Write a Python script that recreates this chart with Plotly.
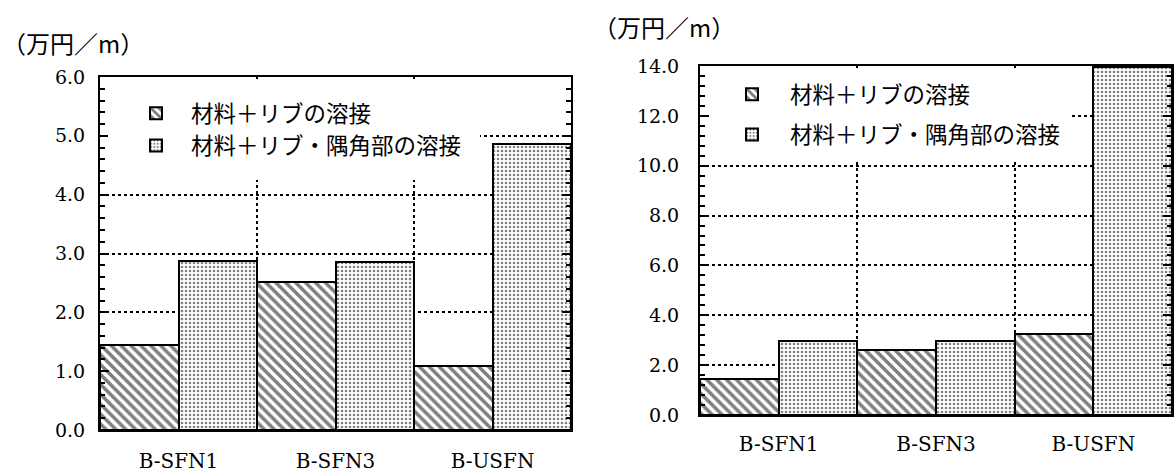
import plotly.graph_objects as go

categories = ["B-SFN1", "B-SFN3", "B-USFN"]
series_names = ["材料＋リブの溶接", "材料＋リブ・隅角部の溶接"]

# left chart values (万円/m)
left_rib = [1.45, 2.52, 1.08]
left_rib_corner = [2.88, 2.86, 4.86]

# right chart values (万円/m)
right_rib = [1.46, 2.60, 3.24]
right_rib_corner = [2.95, 2.97, 13.95]

left_ticks = [0, 1, 2, 3, 4, 5, 6]
right_ticks = [0, 2, 4, 6, 8, 10, 12, 14]
y_title = "（万円／m）"

W, H = 1175, 472
xpos = list(range(len(categories)))

SERIF = "DejaVu Serif"
JP = "Noto Sans CJK JP"

hatch = dict(shape="\\", fgcolor="black", bgcolor="white", size=7, solidity=0.5, fillmode="overlay")
dots = dict(shape=".", fgcolor="black", bgcolor="white", size=4, solidity=0.33, fillmode="overlay")

fig = go.Figure()


def add_bars(vals_a, vals_b, xa, ya, legend):
    fig.add_trace(go.Bar(
        x=xpos, y=vals_a, name=series_names[0], xaxis=xa, yaxis=ya,
        marker=dict(color="white", pattern=hatch, line=dict(color="black", width=2)),
        legend=legend, legendgroup=legend + "a", offsetgroup="a",
    ))
    fig.add_trace(go.Bar(
        x=xpos, y=vals_b, name=series_names[1], xaxis=xa, yaxis=ya,
        marker=dict(color="white", pattern=dots, line=dict(color="black", width=2)),
        legend=legend, legendgroup=legend + "b", offsetgroup="b",
    ))


add_bars(left_rib, left_rib_corner, "x", "y", "legend")
add_bars(right_rib, right_rib_corner, "x2", "y2", "legend2")


def xaxis(domain, anchor, standoff):
    return dict(
        domain=domain, anchor=anchor, range=[-0.5, len(categories) - 0.5],
        tickmode="array", tickvals=xpos, ticktext=categories, ticks="",
        tickfont=dict(family=SERIF, size=20, color="black"),
        ticklabelstandoff=standoff, automargin=False,
        showline=True, linecolor="black", linewidth=2, mirror="allticks",
        showgrid=False, zeroline=False, fixedrange=True,
        minor=dict(tickmode="array", tickvals=[i + 0.5 for i in xpos[:-1]],
                   ticks="inside", ticklen=8, tickwidth=2, tickcolor="black",
                   showgrid=True, gridcolor="black", griddash="dot", gridwidth=1.5),
    )


def yaxis(domain, anchor, ticks, minor_dt, standoff):
    return dict(
        domain=domain, anchor=anchor, range=[ticks[0], ticks[-1]],
        tickmode="array", tickvals=ticks, ticktext=[f"{t:.1f}" for t in ticks],
        ticks="inside", ticklen=9, tickwidth=2, tickcolor="black",
        tickfont=dict(family=SERIF, size=19, color="black"),
        ticklabelstandoff=standoff, automargin=False,
        showline=True, linecolor="black", linewidth=2, mirror="allticks",
        showgrid=True, gridcolor="black", griddash="dot", gridwidth=1.5,
        zeroline=False, fixedrange=True,
        minor=dict(dtick=minor_dt, tick0=0, ticks="inside", ticklen=5, tickwidth=1.5,
                   tickcolor="black", showgrid=False),
    )


fig.update_layout(
    width=W, height=H, autosize=False,
    margin=dict(l=0, r=0, t=0, b=0, pad=0, autoexpand=False),
    paper_bgcolor="white", plot_bgcolor="white",
    barmode="group", bargap=0, bargroupgap=0,
    xaxis=xaxis([100 / W, 571 / W], "y", 12),
    yaxis=yaxis([(H - 430) / H, (H - 77) / H], "x", left_ticks, 0.2, 9),
    xaxis2=xaxis([700 / W, 1172 / W], "y2", 10),
    yaxis2=yaxis([(H - 415) / H, (H - 66) / H], "x2", right_ticks, 0.4, 15),
    legend=dict(
        x=108 / W, y=(H - 79) / H, xanchor="left", yanchor="top",
        bgcolor="white", bordercolor="white", borderwidth=13,
        font=dict(family=JP, size=22.5, color="black"),
        tracegroupgap=0, itemwidth=60,
    ),
    legend2=dict(
        x=709 / W, y=(H - 68) / H, xanchor="left", yanchor="top",
        bgcolor="white", bordercolor="white", borderwidth=5,
        font=dict(family=JP, size=22.5, color="black"),
        tracegroupgap=8, itemwidth=66,
    ),
    showlegend=True,
    annotations=[
        dict(text=y_title, xref="paper", yref="paper", x=0, y=1 - 43 / H,
             xanchor="left", yanchor="middle", showarrow=False,
             font=dict(family=JP, size=24, color="black")),
        dict(text=y_title, xref="paper", yref="paper", x=591 / W, y=1 - 27 / H,
             xanchor="left", yanchor="middle", showarrow=False,
             font=dict(family=JP, size=24, color="black")),
    ],
)

fig.write_html("out.html", config={"displayModeBar": False},
               post_script="document.body.style.margin='0';")
